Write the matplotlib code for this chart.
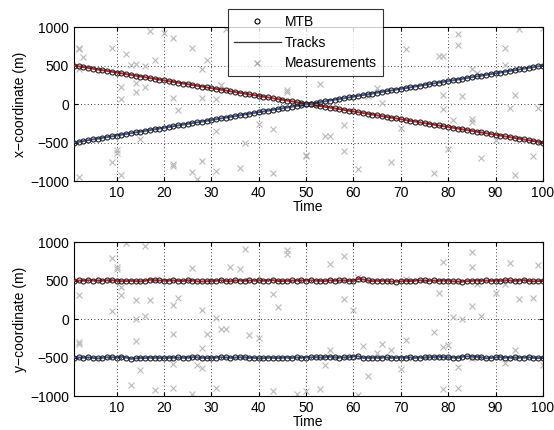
import matplotlib
matplotlib.use("Agg")
import matplotlib.pyplot as plt
from matplotlib.lines import Line2D

plt.rcParams["font.family"] = ["Liberation Sans", "DejaVu Sans"]

time = list(range(1, 101))

# top panel: x-coordinate of the two targets (MTB estimates / tracks)
x_red = [500, 490, 480, 469, 460, 449, 440, 430, 419, 409,
         399, 389, 378, 369, 358, 349, 338, 328, 318, 308,
         298, 288, 278, 267, 258, 248, 237, 227, 217, 207,
         197, 186, 177, 166, 156, 146, 136, 126, 116, 106,
         95, 86, 75, 65, 55, 45, 35, 25, 15, 5,
         -5, -15, -25, -36, -45, -56, -66, -76, -86, -96,
         -106, -116, -127, -136, -147, -157, -167, -177, -187, -197,
         -207, -218, -227, -238, -248, -258, -268, -278, -288, -298,
         -308, -318, -329, -338, -349, -359, -369, -379, -389, -399,
         -409, -420, -429, -440, -450, -460, -470, -480, -490, -500]
x_blue = [-500, -491, -481, -470, -459, -450, -440, -429, -420, -410,
          -399, -389, -379, -368, -359, -349, -339, -328, -318, -309,
          -298, -288, -277, -268, -258, -247, -238, -228, -218, -207,
          -197, -187, -177, -166, -157, -147, -136, -126, -117, -106,
          -96, -86, -76, -66, -55, -45, -35, -25, -15, -5,
          5, 15, 26, 35, 46, 56, 66, 76, 86, 96,
          106, 117, 126, 137, 147, 157, 167, 177, 188, 197,
          207, 217, 228, 238, 248, 258, 268, 278, 288, 298,
          309, 318, 328, 339, 349, 359, 369, 379, 389, 400,
          409, 419, 430, 439, 450, 460, 470, 480, 490, 500]

# bottom panel: y-coordinate
y_red = [497, 502, 498, 505, 500, 503, 499, 504, 506, 495,
         492, 494, 497, 493, 490, 496, 510, 505, 502, 498,
         500, 503, 496, 494, 505, 500, 490, 488, 492, 494,
         497, 505, 495, 490, 503, 500, 498, 502, 499, 505,
         497, 500, 506, 495, 493, 497, 501, 498, 504, 500,
         503, 499, 497, 492, 504, 500, 501, 503, 499, 495,
         520, 515, 505, 492, 497, 499, 494, 488, 486, 490,
         496, 494, 500, 503, 502, 498, 501, 497, 500, 499,
         490, 488, 486, 492, 495, 500, 498, 501, 496, 497,
         499, 504, 502, 498, 500, 506, 495, 490, 493, 497]
y_blue = [-500, -498, -502, -497, -505, -512, -503, -497, -495, -503,
          -490, -500, -518, -510, -505, -507, -502, -500, -505, -508,
          -503, -501, -499, -504, -500, -495, -497, -503, -507, -505,
          -500, -496, -498, -502, -499, -497, -494, -503, -505, -510,
          -508, -500, -505, -507, -503, -500, -505, -498, -502, -500,
          -497, -495, -499, -493, -490, -495, -500, -497, -495, -487,
          -483, -505, -503, -502, -504, -500, -498, -502, -505, -500,
          -503, -497, -505, -500, -498, -496, -494, -490, -495, -497,
          -500, -503, -490, -485, -488, -492, -495, -510, -505, -498,
          -494, -500, -503, -497, -502, -500, -495, -505, -508, -500]

# clutter + target measurements
meas_x_t = [2, 3, 2, 2, 9, 12, 17, 20, 22, 18, 13, 14, 16, 11, 14, 14, 16, 11,
            22, 23, 15, 10, 10, 9, 11, 22, 22, 2,
            26, 29, 28, 33, 32, 28, 31, 46, 46, 31, 40, 43, 37, 28, 36, 31, 26,
            27, 43, 50,
            53, 71, 65, 66, 63, 58, 54, 55, 50, 58, 70, 61, 68,
            82, 82, 78, 79, 95, 100, 92, 92, 85, 86, 79, 83, 94, 79, 93, 99,
            81, 85, 85, 90, 80, 87, 98, 77, 94]
meas_x_v = [727, 610, 458, 710, 727, 645, 944, 926, 857, 575, 510, 520, 489, 221,
            273, 156, 221, 69, 78, -82, -459, -601, -636, -753, -918, -775, -805, -952,
            727, 567, 458, 970, 243, 78, 61, 178, 160, -355, -256, -320, -503, -744,
            -831, -870, -883, -970, -892, -666,
            264, 710, 208, 17, 104, -268, -416, -416, -675, -614, -312, -840, -753,
            905, 762, 619, 619, 970, 987, 727, 510, 458, 406, 121, 104, 121, -69, -52,
            -52, -212, -199, -234, -472, -580, -701, -675, -892, -918]

meas_y_t = [12, 16, 9, 10, 10, 11, 11, 2, 14, 17, 9, 14, 16, 2, 2, 14, 22, 23, 22,
            15, 22, 13, 18, 22,
            37, 46, 46, 26, 34, 36, 43, 44, 28, 31, 29, 32, 33, 38, 40, 28, 27, 28,
            31, 26, 43, 48, 50,
            58, 55, 61, 71, 58, 60, 62, 66, 68, 65, 71, 55, 54, 63, 70, 53, 61,
            77, 79, 80, 82, 79, 82, 78, 79, 85, 85, 85, 81, 83, 87, 86, 93, 99,
            90, 92, 95, 98, 94, 92, 100, 85]
meas_y_v = [990, 944, 796, 653, 680, 416, 316, 316, 251, 251, 104, 4, 35, -299,
            -321, -286, -191, 277, 178, -658, -580, -853, -918, -892,
            905, 892, 848, 666, 675, 653, 320, 156, 113, 17, -191, -126, -126, -212,
            -247, -377, -601, -636, -896, -978, -935, -978, -935,
            818, 710, 550, 519, 256, 113, -355, -321, -399, -442, -269, -407, -601,
            -744, -645, -905, -991,
            -165, -360, -338, -627, -913, -900, 334, 744, 866, 671, 169, 30, 0, 43,
            451, 731, 701, 342, 451, 260, 269, -403, -575, -597, -510]

RED = "#e8101a"
BLUE = "#3a58a8"
GREY = "#b8b8b8"
FS = 10

fig = plt.figure(figsize=(5.54, 4.30), dpi=100)
ax1 = fig.add_axes([0.1336, 0.579, 0.8464, 0.358])
ax2 = fig.add_axes([0.1336, 0.079, 0.8464, 0.358])


def draw(ax, mt, mv, red, blue, ylabel):
    ax.plot(mt, mv, "x", color=GREY, ms=4.5, mew=0.8, zorder=2)
    ax.plot(time, red, "-", color=RED, lw=1.4, zorder=3)
    ax.plot(time, blue, "-", color=BLUE, lw=1.4, zorder=3)
    for vals in (red, blue):
        ax.plot(time, vals, "o", mfc="none", mec="#222222", ms=3.6, mew=0.8,
                zorder=4)
    ax.set_xlim(1, 100)
    ax.set_ylim(-1000, 1000)
    ax.set_xticks(range(10, 101, 10))
    ax.set_yticks([-1000, -500, 0, 500, 1000])
    ax.set_yticklabels(["\u22121000", "\u2212500", "0", "500", "1000"])
    ax.grid(True, linestyle=(0, (1, 3)), color="black", lw=0.6)
    ax.tick_params(direction="in", labelsize=FS, length=3, top=True, right=True)
    ax.set_xlabel("Time", fontsize=FS, labelpad=0)
    ax.set_ylabel(ylabel, fontsize=FS, labelpad=2)
    for s in ax.spines.values():
        s.set_linewidth(0.8)


draw(ax1, meas_x_t, meas_x_v, x_red, x_blue, "x\u2212coordinate (m)")
draw(ax2, meas_y_t, meas_y_v, y_red, y_blue, "y\u2212coordinate (m)")

handles = [
    Line2D([0], [0], ls="none", marker="o", mfc="none", mec="black", ms=3.6, mew=0.8),
    Line2D([0], [0], ls="-", color="#333333", lw=0.9),
    Line2D([0], [0], ls="none", marker="x", mec="#a8a8a8", ms=5, mew=0.9),
]
leg = fig.legend(handles, ["MTB", "Tracks", "Measurements"],
                 loc="upper left", bbox_to_anchor=(0.4116, 0.979),
                 fontsize=FS, frameon=True, fancybox=False, handlelength=3.4,
                 borderpad=0.4, labelspacing=0.5, handletextpad=0.3,
                 borderaxespad=0)
leg.get_frame().set_edgecolor("black")
leg.get_frame().set_linewidth(0.8)
leg.set_zorder(10)

fig.savefig("out.png", dpi=100)
